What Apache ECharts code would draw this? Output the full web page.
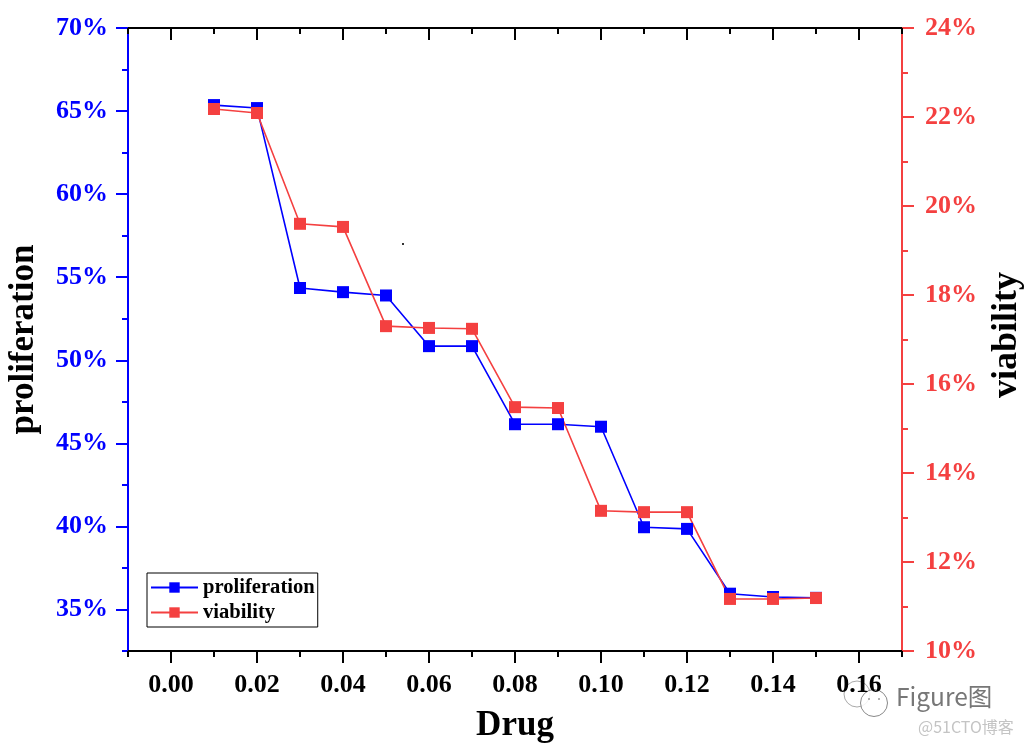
<!DOCTYPE html>
<html><head><meta charset="utf-8">
<style>html,body{margin:0;padding:0;background:#fff}#c{width:1027px;height:748px}</style>
<script src="https://cdn.jsdelivr.net/npm/echarts@6/dist/echarts.min.js"></script>
</head><body><div id="c"></div>
<script>
const drug=[0.01,0.02,0.03,0.04,0.05,0.06,0.07,0.08,0.09,0.10,0.11,0.12,0.13,0.14,0.15];
const proliferation=[65.36,65.18,54.35,54.1,53.9,50.85,50.85,46.15,46.15,46.0,39.95,39.85,35.95,35.75,35.7];
const viability=[22.18,22.09,19.6,19.53,17.3,17.26,17.24,15.48,15.46,13.15,13.12,13.12,11.17,11.17,11.19];
const xMajor=[0,0.02,0.04,0.06,0.08,0.10,0.12,0.14,0.16];
const xMinor=[-0.01,0.01,0.03,0.05,0.07,0.09,0.11,0.13,0.15,0.17];
const leftMajor=[35,40,45,50,55,60,65,70];
const leftMinor=[32.5,37.5,42.5,47.5,52.5,57.5,62.5,67.5];
const rightMajor=[10,12,14,16,18,20,22,24];
const rightMinor=[11,13,15,17,19,21,23];
const BLUE='#0000ff',RED='#f44040',FF='"Liberation Serif","Times New Roman",serif';
const pair=(a,b)=>a.map((v,i)=>[v,b[i]]);
function xAx(pos,vals,len,inside,labels,extra){
  return Object.assign({type:'value',position:pos,min:-0.01,max:0.17,splitLine:{show:false},
    axisLine:{show:true,onZero:false,lineStyle:{color:'#000',width:2}},
    axisTick:{show:true,inside,length:len,customValues:vals,lineStyle:{color:'#000',width:2}},
    axisLabel:labels?{show:true,customValues:vals,formatter:v=>v.toFixed(2),margin:21,color:'#000',fontFamily:FF,fontWeight:'bold',fontSize:26,showMinLabel:true,showMaxLabel:true}:{show:false}},extra||{});
}
function yAx(pos,min,max,vals,len,color,labels,margin,extra){
  return Object.assign({type:'value',position:pos,min,max,splitLine:{show:false},
    axisLine:{show:true,onZero:false,lineStyle:{color,width:2}},
    axisTick:{show:true,inside:false,length:len,customValues:vals,lineStyle:{color,width:2}},
    axisLabel:labels?{show:true,customValues:vals,formatter:v=>Math.round(v)+'%',margin,color,fontFamily:FF,fontWeight:'bold',fontSize:26}:{show:false}},extra||{});
}
const nameStyle={color:'#000',fontFamily:FF,fontWeight:'bold',fontSize:35};
const option={
  animation:false,backgroundColor:'#fff',
  grid:{left:128,right:125,top:28,bottom:97,containLabel:false,outerBoundsMode:'none'},
  legend:{left:147,top:573,orient:'vertical',itemWidth:47,itemHeight:13,itemGap:4,padding:[4,3,4,3],
    borderColor:'#000',borderWidth:1,backgroundColor:'#fff',
    textStyle:{color:'#000',fontFamily:FF,fontWeight:'bold',fontSize:20.6},
    data:['proliferation','viability']},
  xAxis:[
    xAx('bottom',xMajor,12,false,true,{name:'Drug',nameLocation:'middle',nameGap:57,nameTextStyle:nameStyle}),
    xAx('bottom',xMinor,6,false,false),
    xAx('top',xMajor,12,true,false),
    xAx('top',xMinor,6,true,false)
  ],
  yAxis:[
    yAx('left',32.5,70,leftMajor,12,BLUE,true,20,{name:'proliferation',nameLocation:'middle',nameGap:87,nameTextStyle:nameStyle}),
    yAx('right',10,24,rightMajor,12,RED,true,23,{name:'viability',nameLocation:'middle',nameGap:87,nameRotate:90,
      nameTextStyle:Object.assign({},nameStyle,{fontSize:36,padding:[0,0,0,9]})}),
    yAx('left',32.5,70,leftMinor,6,BLUE,false,0),
    yAx('right',10,24,rightMinor,6,RED,false,0)
  ],
  series:[
    {name:'proliferation',type:'line',xAxisIndex:0,yAxisIndex:0,data:pair(drug,proliferation),symbol:'rect',symbolSize:12,
      lineStyle:{color:BLUE,width:1.6},itemStyle:{color:BLUE}},
    {name:'viability',type:'line',xAxisIndex:0,yAxisIndex:1,data:pair(drug,viability),symbol:'rect',symbolSize:12,
      lineStyle:{color:RED,width:1.6},itemStyle:{color:RED}}
  ],
  graphic:[
    {type:'rect',left:402,top:243,shape:{width:2,height:2},style:{fill:'#333'}},
    {type:'circle',shape:{cx:857,cy:694,r:13},style:{fill:'rgba(255,255,255,0.7)',stroke:'#aaa',lineWidth:1}},
    {type:'circle',shape:{cx:874,cy:703,r:13.5},style:{fill:'rgba(255,255,255,0.85)',stroke:'#888',lineWidth:1}},
    {type:'circle',shape:{cx:869,cy:699,r:1},style:{fill:'#999'}},
    {type:'circle',shape:{cx:879,cy:699,r:1},style:{fill:'#999'}},
    {type:'text',left:896,top:684,style:{text:'Figure图',fill:'#777',font:'24.5px "Noto Sans CJK SC","DejaVu Sans",sans-serif'}},
    {type:'text',left:918,top:719,style:{text:'@51CTO博客',fill:'#c4c4c4',font:'16px "Noto Sans CJK SC","DejaVu Sans",sans-serif'}}
  ]
};
echarts.init(document.getElementById('c'),null,{renderer:'canvas'}).setOption(option);
</script></body></html>
